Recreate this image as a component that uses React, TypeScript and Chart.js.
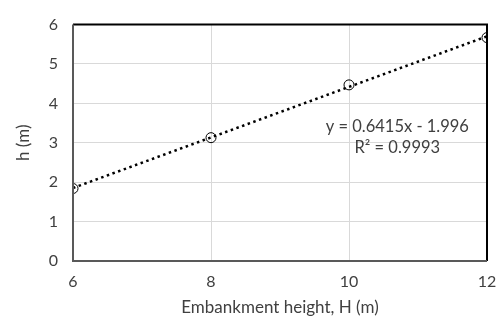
import { useEffect, useRef } from "react";
import { Chart, registerables } from "chart.js";

Chart.register(...registerables);

const embankmentHeights = [6, 8, 10, 12];
const hValues = [1.84, 3.13, 4.47, 5.67];
const trendX = [6, 12];
const trendY = [1.853, 5.702];
const xTicks = [6, 8, 10, 12];
const yTicks = [0, 1, 2, 3, 4, 5, 6];
const equationLines = ["y = 0.6415x - 1.996", "R² = 0.9993"];

const FONT = "Lato, 'Open Sans', sans-serif";

export default function App() {
  const ref = useRef<HTMLCanvasElement | null>(null);

  useEffect(() => {
    document.body.style.margin = "0";
    const canvas = ref.current;
    if (!canvas) return;

    const framePlugin = {
      id: "frame",
      afterDatasetsDraw(chart: any) {
        const { ctx, chartArea: a } = chart;
        ctx.save();
        ctx.strokeStyle = "#000000";
        ctx.lineWidth = 2;
        ctx.beginPath();
        ctx.moveTo(a.left, a.top);
        ctx.lineTo(a.right, a.top);
        ctx.lineTo(a.right, a.bottom);
        ctx.stroke();
        ctx.strokeStyle = "#595959";
        ctx.beginPath();
        ctx.moveTo(a.left, a.top);
        ctx.lineTo(a.left, a.bottom);
        ctx.lineTo(a.right, a.bottom);
        ctx.stroke();
        ctx.fillStyle = "#404040";
        ctx.font = `16.5px ${FONT}`;
        ctx.textAlign = "center";
        ctx.textBaseline = "middle";
        const xs = chart.scales.x;
        const ys = chart.scales.y;
        const cx = xs.getPixelForValue(10.7);
        ctx.fillText(equationLines[0], cx, ys.getPixelForValue(3.41));
        ctx.fillText(equationLines[1], cx, ys.getPixelForValue(2.88));
        ctx.restore();
      },
    };

    const chart = new Chart(canvas, {
      type: "scatter",
      data: {
        datasets: [
          {
            label: "h",
            data: embankmentHeights.map((x, i) => ({ x, y: hValues[i] })),
            pointStyle: "circle",
            pointRadius: 5,
            pointBorderColor: "#000000",
            pointBackgroundColor: "rgba(0,0,0,0)",
            pointBorderWidth: 1,
            showLine: false,
            order: 1,
          },
          {
            label: "trend",
            data: trendX.map((x, i) => ({ x, y: trendY[i] })),
            showLine: true,
            borderColor: "#000000",
            borderWidth: 2.5,
            borderDash: [2.5, 3.5],
            borderCapStyle: "butt",
            pointRadius: 0,
            order: 2,
          },
        ],
      },
      options: {
        animation: false,
        responsive: false,
        layout: { padding: { left: 0, top: 13, right: 15, bottom: 0 } },
        plugins: {
          legend: { display: false },
          tooltip: { enabled: false },
        },
        scales: {
          x: {
            type: "linear",
            min: 6,
            max: 12,
            afterBuildTicks: (s: any) => {
              s.ticks = xTicks.map((v) => ({ value: v }));
            },
            afterFit: (s: any) => {
              s.height = 66;
              s.paddingRight = 2;
            },
            grid: { color: "#d9d9d9", lineWidth: 1, drawTicks: false },
            border: { display: false },
            ticks: {
              color: "#404040",
              font: { family: FONT, size: 16 },
              padding: 11,
            },
            title: {
              display: true,
              text: "Embankment height, H (m)",
              color: "#404040",
              font: { family: FONT, size: 17 },
              padding: { top: 4, bottom: 9 },
            },
          },
          y: {
            type: "linear",
            min: 0,
            max: 6,
            afterBuildTicks: (s: any) => {
              s.ticks = yTicks.map((v) => ({ value: v }));
            },
            afterFit: (s: any) => {
              s.width = 73;
            },
            grid: { color: "#d9d9d9", lineWidth: 1, drawTicks: false },
            border: { display: false },
            ticks: {
              color: "#404040",
              font: { family: FONT, size: 16 },
              padding: 15,
            },
            title: {
              display: true,
              text: "h (m)",
              color: "#404040",
              font: { family: FONT, size: 17 },
              padding: { top: 13, bottom: 0 },
            },
          },
        },
      },
      plugins: [framePlugin],
    } as any);

    return () => chart.destroy();
  }, []);

  return (
    <div style={{ width: 502, height: 327 }}>
      <canvas ref={ref} width={502} height={327} style={{ display: "block" }} />
    </div>
  );
}
